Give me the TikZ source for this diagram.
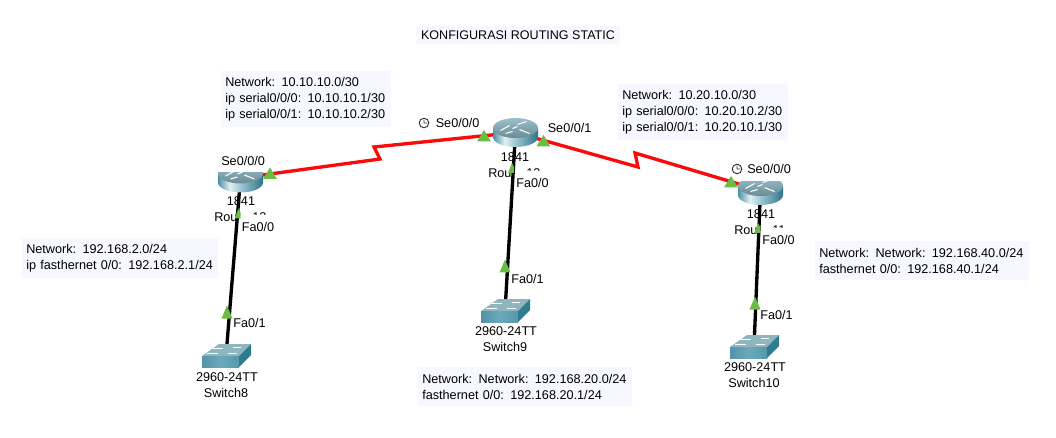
\documentclass[tikz,border=0pt]{standalone}
\usepackage{fontspec}
\setmainfont{Liberation Sans}
\definecolor{notebg}{HTML}{F7F8FF}
\definecolor{rtop}{HTML}{8FB9C6}
\definecolor{swtop}{HTML}{8FB5BF}
\definecolor{swside}{HTML}{2F7C90}
\definecolor{portgreen}{HTML}{6CBB45}
\definecolor{linkred}{HTML}{FA0A0A}
\pgfdeclarehorizontalshading{routerside}{100bp}{rgb(0bp)=(0.30,0.56,0.64);rgb(25bp)=(0.30,0.56,0.64);rgb(38bp)=(0.88,0.94,0.95);rgb(50bp)=(0.62,0.78,0.83);rgb(75bp)=(0.18,0.45,0.54);rgb(100bp)=(0.18,0.45,0.54)}
\pgfdeclarehorizontalshading{switchfront}{100bp}{rgb(0bp)=(0.33,0.58,0.66);rgb(25bp)=(0.33,0.58,0.66);rgb(50bp)=(0.42,0.66,0.73);rgb(75bp)=(0.33,0.60,0.68);rgb(100bp)=(0.33,0.60,0.68)}
\tikzset{
 x=0.75pt,y=-0.75pt,
 notetext/.style={fill=notebg,align=left,inner xsep=3pt,inner ysep=0pt,anchor=north west,font=\fontsize{9.5}{12}\selectfont},
 lab/.style={inner sep=0pt,font=\fontsize{9.5}{11}\selectfont},
 fa/.style={lab,anchor=west},
 serial/.style={draw=linkred,line width=2.5pt},
 eth/.style={draw=black,line width=2.5pt},
 routericon/.pic={
   \shade[shading=routerside] (-22.5,-4.5) -- (-22.5,4.5) arc[x radius=22.5,y radius=10,start angle=180,end angle=0] -- (22.5,-4.5) -- cycle;
   \shade[top color=rtop!90!white,bottom color=rtop!75!black] (0,-4.5) ellipse[x radius=22.5,y radius=10];
   \draw[white,line width=0.8pt] (-15,-2)--(-6,-7) (4,-3)--(14,1) (-10,1)--(-3,-1) (2,-8)--(11,-11) (2,-6)--(-3,-4);
 },
 switchicon/.pic={
   \fill[swtop] (-24,0) -- (-7,-12) -- (25,-12) -- (13,0) -- cycle;
   \shade[shading=switchfront] (-24,0) -- (13,0) -- (13,11) -- (-24,11) -- cycle;
   \fill[swside] (13,0) -- (25,-12) -- (25,-1) -- (13,11) -- cycle;
   \draw[white,line width=0.6pt] (-13,-8)--(-3,-8) (7,-9)--(15,-9) (-19,-3)--(-8,-3) (2,-3)--(11,-3);
 },
 portup/.pic={\fill[portgreen] (-7,5.5) -- (0,-6) -- (7,5.5) -- cycle;},
 porttall/.pic={\fill[portgreen] (-5.5,6.5) -- (0,-6.5) -- (5.5,6.5) -- cycle;},
 portcut/.pic={\fill[portgreen] (-4,5) -- (0,-5) -- (2,-1) -- (2,5) -- cycle;},
 hide/.style={fill=white,draw=none},
}
\newcommand{\clockicon}[2]{\draw[black!80,line width=0.7pt] (#1,#2) circle[radius=4.8] (#1,#2-3)--(#1,#2)--(#1+3,#2);}
\begin{document}
\begin{tikzpicture}
\useasboundingbox (0,0) rectangle (1056,438);
\fill[white] (0,0) rectangle (1056,438);
% title
\node[fill=notebg,inner xsep=4pt,inner ysep=3.5pt,font=\fontsize{9.4}{11}\selectfont] (title) at (518,35) {KONFIGURASI ROUTING STATIC};
% device centres and zigzag bends
\coordinate (r1) at (240.5,178);
\coordinate (r2) at (515.5,132.5);
\coordinate (r3) at (760.5,190.5);
\coordinate (s1) at (226,356);
\coordinate (s2) at (505,311);
\coordinate (s3) at (754,347);
\coordinate (z1a) at (380,159);
\coordinate (z1b) at (374,147);
\coordinate (z2a) at (638,167);
\coordinate (z2b) at (635,153);
% device captions
\node[lab] (r1model) at (241,201) {1841};
\node[lab] (r2model) at (515,157) {1841};
\node[lab] (r3model) at (761,214) {1841};
\node[lab,anchor=west] (r1name) at (214,217.5) {Router12};
\node[lab,anchor=west] (r2name) at (488,173.5) {Router13};
\node[lab,anchor=west] (r3name) at (734,230.5) {Router11};
% the link-label backgrounds hide the lower part of the names
\fill[hide] (237,210) rectangle (252,226) (237,215) rectangle (272,226);
\fill[hide] (512,166) rectangle (526,182) (512,171) rectangle (546,182);
\fill[hide] (758,223) rectangle (772,239) (758,228) rectangle (792,239);
% links
\draw[serial] (r1) -- (z1a) -- (z1b) -- (r2) -- (z2a) -- (z2b) -- (r3);
\draw[eth] (r1) -- (s1);
\draw[eth] (r2) -- (s2);
\draw[eth] (r3) -- (s3);
% devices
\pic at (r1) {routericon};
\pic at (r2) {routericon};
\pic at (r3) {routericon};
\pic at (s1) {switchicon};
\pic at (s2) {switchicon};
\pic at (s3) {switchicon};
% backgrounds of the serial labels cut the router tops
\fill[hide] (216,158) rectangle (264,172);
\fill[hide] (739,160) rectangle (786,181);
% ports
\pic at (270,173.5) {portup};
\pic at (484,136) {portup};
\pic at (543.5,141) {portup};
\pic at (731,182) {portup};
\pic at (238.5,213.5) {portcut};
\pic at (512,168) {portcut};
\pic at (758,228) {portcut};
\pic at (227,312) {porttall};
\pic at (505,266) {porttall};
\pic at (755,303) {porttall};
% captions under switches
\node[lab] (s1model) at (227,377) {2960-24TT};
\node[lab] (s1name) at (226,392.5) {Switch8};
\node[lab] (s2model) at (506,331) {2960-24TT};
\node[lab] (s2name) at (505,347) {Switch9};
\node[lab] (s3model) at (755,367) {2960-24TT};
\node[lab] (s3name) at (754,383) {Switch10};
% port labels
\node[fa] (p1) at (221,161) {Se0/0/0};
\node[fa] (p2) at (435.5,123) {Se0/0/0};
\node[fa] (p3) at (547.5,128) {Se0/0/1};
\node[fa] (p4) at (747,169) {Se0/0/0};
\node[fa] (p5) at (241.5,227) {Fa0/0};
\node[fa] (p6) at (516,183) {Fa0/0};
\node[fa] (p7) at (762,239.5) {Fa0/0};
\node[fa] (p8) at (233,323) {Fa0/1};
\node[fa] (p9) at (511,278.5) {Fa0/1};
\node[fa] (p10) at (760,315) {Fa0/1};
\clockicon{424}{123}
\clockicon{737}{169}
% notes
\node[notetext,text width=121pt,minimum height=42pt] (n1) at (221,71) {Network: 10.10.10.0/30\\ip serial0/0/0: 10.10.10.1/30\\ip serial0/0/1: 10.10.10.2/30};
\node[notetext,text width=121pt,minimum height=42pt] (n2) at (618,84) {Network: 10.20.10.0/30\\ip serial0/0/0: 10.20.10.2/30\\ip serial0/0/1: 10.20.10.1/30};
\node[notetext,text width=140.5pt,minimum height=30pt] (n3) at (22,238) {Network: 192.168.2.0/24\\ip fasthernet 0/0: 192.168.2.1/24};
\node[notetext,text width=154pt,minimum height=29pt] (n4) at (418,367) {Network: Network: 192.168.20.0/24\\fasthernet 0/0: 192.168.20.1/24};
\node[notetext,text width=154pt,minimum height=29pt] (n5) at (815,241) {Network: Network: 192.168.40.0/24\\fasthernet 0/0: 192.168.40.1/24};
\end{tikzpicture}
\end{document}
